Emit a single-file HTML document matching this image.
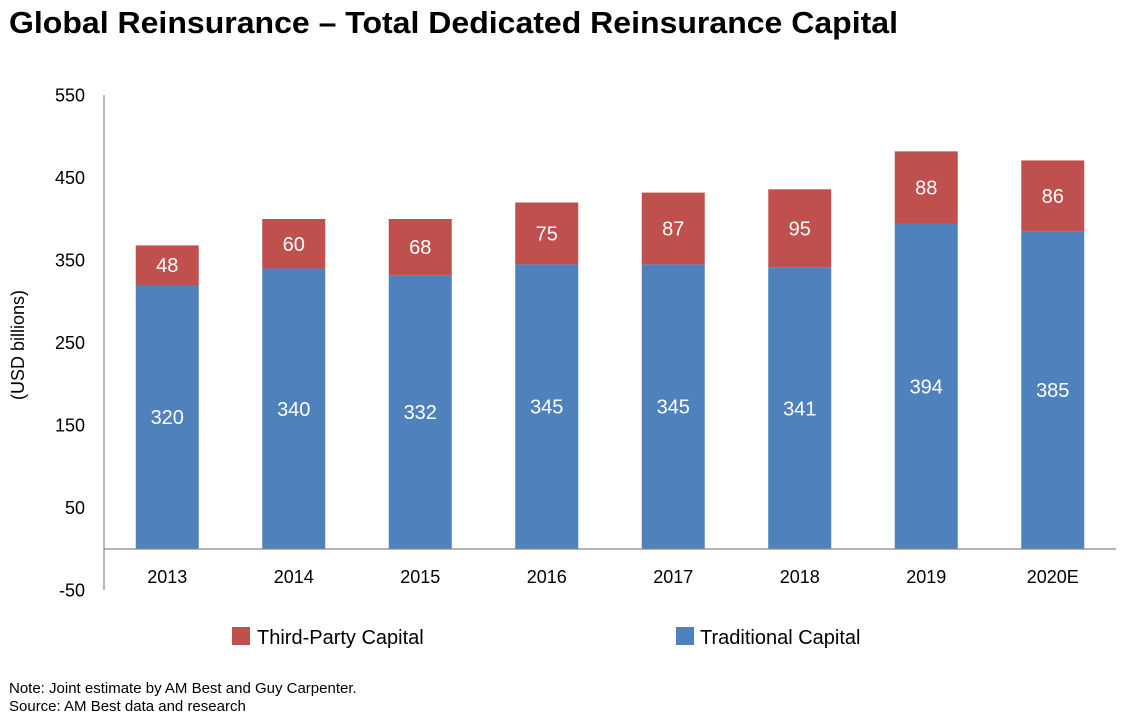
<!DOCTYPE html>
<html><head><meta charset="utf-8"><style>
body{margin:0;background:#fff;font-family:"Liberation Sans",Arial,sans-serif;}
#wrap{position:relative;width:1130px;height:724px;overflow:hidden;}
</style></head><body>
<div id="wrap">
<svg id="chart" width="1130" height="724" xmlns="http://www.w3.org/2000/svg">
<text x="9" y="33" font-size="31" font-weight="bold" fill="#000" textLength="889" lengthAdjust="spacingAndGlyphs">Global Reinsurance – Total Dedicated Reinsurance Capital</text>
<text transform="translate(24,345) rotate(-90)" text-anchor="middle" font-size="18" fill="#000">(USD billions)</text>
<g id="yticks"></g>
<g id="bars"></g>
<g id="xlabels"></g>
<line x1="104" y1="95" x2="104" y2="590" stroke="#888" stroke-width="1.2"/>
<line id="zero" x1="104" x2="1116" stroke="#888" stroke-width="1.2"/>
<rect x="232" y="627" width="18" height="18" fill="#C0504D"/>
<text x="257" y="644" font-size="20" fill="#000">Third-Party Capital</text>
<rect x="676" y="627" width="18" height="18" fill="#4F81BD"/>
<text x="700" y="644" font-size="20" fill="#000">Traditional Capital</text>
<text x="9" y="693" font-size="15" fill="#000">Note: Joint estimate by AM Best and Guy Carpenter.</text>
<text x="9" y="711" font-size="15" fill="#000">Source: AM Best data and research</text>
</svg>
</div>
<script>
const categories=["2013","2014","2015","2016","2017","2018","2019","2020E"];
const traditional=[320,340,332,345,345,341,394,385];
const thirdParty=[48,60,68,75,87,95,88,86];
const yTicks=[-50,50,150,250,350,450,550];
const NS="http://www.w3.org/2000/svg";
const plotLeft=104,plotRight=1116,y0=549,pxPerUnit=0.825;
function y(v){return y0-v*pxPerUnit;}
const band=(plotRight-plotLeft)/categories.length;
function xc(i){return plotLeft+band*(i+0.5);}
const barW=63;
function mk(tag,attrs,parent){const e=document.createElementNS(NS,tag);for(const k in attrs)e.setAttribute(k,attrs[k]);parent.appendChild(e);return e;}
document.getElementById('zero').setAttribute('y1',y(0));
document.getElementById('zero').setAttribute('y2',y(0));
const yt=document.getElementById('yticks');
yTicks.forEach(v=>{const t=mk('text',{x:85,y:y(v)+6,'text-anchor':'end','font-size':18,fill:'#000'},yt);t.textContent=v;

});
const bars=document.getElementById('bars'),xl=document.getElementById('xlabels');
categories.forEach((c,i)=>{
const x=xc(i)-barW/2,tr=traditional[i],tp=thirdParty[i];
const b1=mk('rect',{x:x,y:y(tr),width:barW,height:y(0)-y(tr),fill:'#4F81BD'},bars);


const b2=mk('rect',{x:x,y:y(tr+tp),width:barW,height:y(tr)-y(tr+tp),fill:'#C0504D'},bars);


const l1=mk('text',{x:xc(i),y:(y(0)+y(tr))/2+7,'text-anchor':'middle','font-size':20,fill:'#fff'},bars);l1.textContent=tr;


const l2=mk('text',{x:xc(i),y:(y(tr)+y(tr+tp))/2+7,'text-anchor':'middle','font-size':20,fill:'#fff'},bars);l2.textContent=tp;


const xt=mk('text',{x:xc(i),y:583,'text-anchor':'middle','font-size':18,fill:'#000'},xl);xt.textContent=c;


});
</script>
</body></html>
